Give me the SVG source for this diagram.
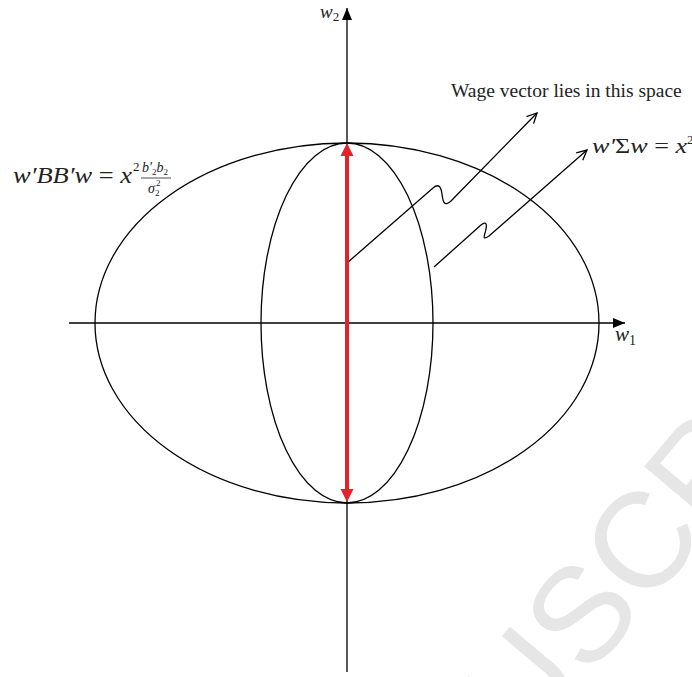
<svg xmlns="http://www.w3.org/2000/svg" width="692" height="677" viewBox="0 0 692 677">
<style>
.ln{fill:none;stroke:#000;stroke-width:1.3}
.math{font-family:"Liberation Serif","DejaVu Serif",serif;font-style:italic;fill:#222}
.up{font-style:normal}
.lbl{font-family:"Liberation Serif","Times New Roman",serif;fill:#222}
</style>
<defs>
<marker id="open" viewBox="0 0 12 12" refX="11" refY="6" markerWidth="12" markerHeight="12" markerUnits="userSpaceOnUse" orient="auto">
<path d="M1,1 L11,6 L1,11" fill="none" stroke="#000" stroke-width="1.3"/>
</marker>
<marker id="solid" viewBox="0 0 12 10" refX="12" refY="5" markerWidth="12" markerHeight="10" markerUnits="userSpaceOnUse" orient="auto">
<path d="M0,0 L12,5 L0,10 Z" fill="#000"/>
</marker>
</defs>
<g id="watermark">
<text transform="translate(525,753) rotate(-50)" font-family="Liberation Sans, Arial, sans-serif" font-size="135" fill="#e6e6e6">USCR</text>
</g>
<g id="outer-ellipse"><ellipse class="ln" cx="347" cy="323" rx="252" ry="180"/></g>
<g id="inner-ellipse"><ellipse class="ln" cx="347" cy="323" rx="86" ry="180"/></g>
<g id="connectors">
<line class="ln" x1="69" y1="323" x2="625" y2="323" marker-end="url(#solid)"/>
<line class="ln" x1="347" y1="672" x2="347" y2="8" marker-end="url(#solid)"/>
<path class="ln" d="M347,263 L433,188 C439,183 441,187 442,194 C443,202 444,207 451,201 L537,113" marker-end="url(#open)"/>
<path class="ln" d="M434,267 L481,225 C486,221 487,224 486,229 C485,235 481,241 489,236 L587,150" marker-end="url(#open)"/>
</g>
<g id="red-arrow">
<line x1="347" y1="153" x2="347" y2="492" stroke="#e42229" stroke-width="4"/>
<path d="M347,143 L353.5,156 L340.5,156 Z" fill="#e42229"/>
<path d="M347,502 L353.5,489 L340.5,489 Z" fill="#e42229"/>
</g>
<g id="labels">
<text class="math" x="320" y="18" font-size="19">w<tspan class="up" font-size="13" dy="3">2</tspan></text>
<text class="math" x="615" y="341" font-size="21">w<tspan class="up" font-size="14" dy="4">1</tspan></text>
<text class="lbl" x="451" y="97" font-size="19.5">Wage vector lies in this space</text>
<text class="math" x="13" y="183" font-size="24" textLength="119" lengthAdjust="spacingAndGlyphs">w′BB′w <tspan class="up">=</tspan> x</text>
<text class="math up" x="133" y="171" font-size="13">2</text>
<text class="math" x="142" y="172" font-size="14">b′<tspan class="up" font-size="9" dy="3">2</tspan><tspan dy="-3">b</tspan><tspan class="up" font-size="9" dy="3">2</tspan></text>
<line x1="141" y1="178" x2="171" y2="178" stroke="#222" stroke-width="0.8"/>
<text class="math" x="148" y="193" font-size="14">σ<tspan class="up" font-size="9" dy="3">2</tspan></text>
<text class="math up" x="156" y="186" font-size="9">2</text>
<text class="math" x="592" y="153" font-size="22" textLength="95" lengthAdjust="spacingAndGlyphs">w′<tspan class="up">Σ</tspan>w <tspan class="up">=</tspan> x</text>
<text class="math up" x="687" y="144" font-size="13">2</text>
</g>
</svg>
